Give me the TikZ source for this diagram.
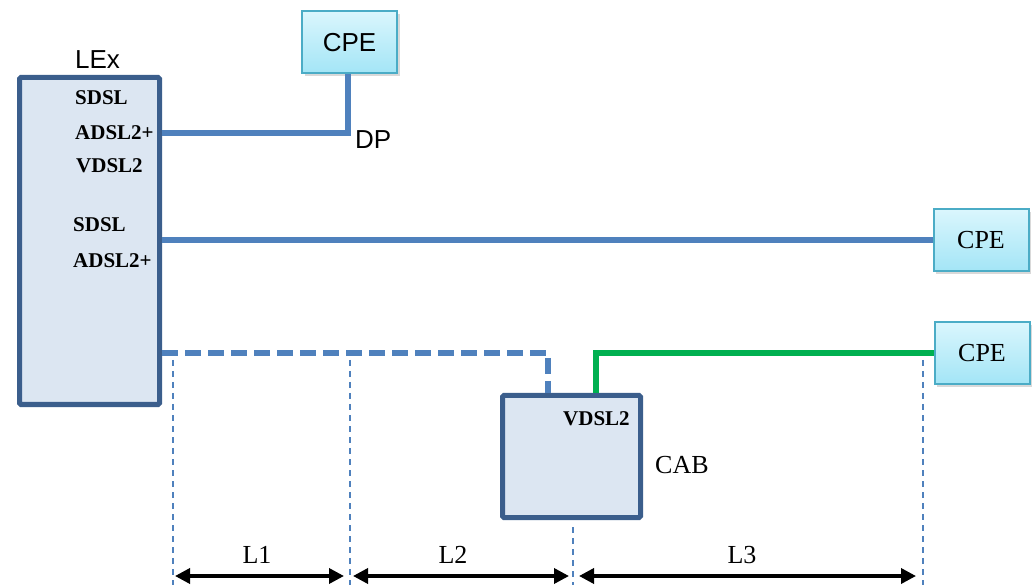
\documentclass[tikz,border=0pt]{standalone}
\usepackage{fontspec}
\setmainfont{Liberation Serif}
\newfontfamily\arialf{Liberation Sans}
\usetikzlibrary{arrows.meta,shadows}

\definecolor{boxfill}{HTML}{DCE6F2}
\definecolor{boxline}{HTML}{3B5E8C}
\definecolor{wireblue}{HTML}{4F81BD}
\definecolor{cpetop}{HTML}{DAF6FD}
\definecolor{cpebot}{HTML}{A3E5F6}
\definecolor{cpeline}{HTML}{4BACC6}
\definecolor{wiregreen}{HTML}{00B050}

\tikzset{
  exch/.style={draw=boxline, fill=boxfill, line width=5pt, rounded corners=1.5pt,
    inner sep=0pt},
  cpebox/.style={draw=cpeline, line width=2pt, top color=cpetop, bottom color=cpebot,
    drop shadow={shadow xshift=2.5pt, shadow yshift=-3pt, opacity=0.3},
    minimum width=95pt, minimum height=62pt, inner sep=0pt},
  cpeserif/.style={cpebox, font=\fontsize{26}{30}\selectfont},
  cpesans/.style={cpebox, font=\arialf\fontsize{26}{30}\selectfont},
  proto/.style={anchor=base west, inner sep=0pt, font=\bfseries\fontsize{21}{24}\selectfont},
  sanslabel/.style={anchor=base west, inner sep=0pt, font=\arialf\fontsize{26}{30}\selectfont},
  seriflabel/.style={anchor=base, inner sep=0pt, font=\fontsize{26}{30}\selectfont},
  wire/.style={draw=wireblue, line width=6pt},
  vwire/.style={draw=wiregreen, line width=5.5pt},
  guide/.style={draw=wireblue, line width=1.8pt, dash pattern=on 6pt off 5pt},
  span/.style={draw=black, line width=3.5pt, {Triangle[length=15pt,width=15pt]}-{Triangle[length=15pt,width=15pt]}}
}

\begin{document}
\begin{tikzpicture}[x=1pt, y=-1pt]
\useasboundingbox (0,0) rectangle (1034,585);

% exchange and cabinet
\node[exch, minimum width=140pt, minimum height=327pt] (lex) at (89.5,241) {};
\node[exch, minimum width=138pt, minimum height=122pt] (cab) at (571.5,456.5) {};

% customer premises equipment
\node[cpesans]  (cpe1) at (349.5,42.5) {CPE};
\node[cpeserif] (cpe2) at (981,240.5) {CPE};
\node[cpeserif] (cpe3) at (982,353) {CPE};

% labels
\node[sanslabel] (lexlbl) at (75,69) {LEx};
\node[sanslabel] (dplbl) at (355,149) {DP};
\node[anchor=base west, inner sep=0pt, font=\fontsize{26}{30}\selectfont] (cablbl) at (655,473) {CAB};

\node[proto] (p1) at (75,105) {SDSL};
\node[proto] (p2) at (75,140) {ADSL2+};
\node[proto] (p3) at (76,173) {VDSL2};
\node[proto] (p4) at (73,232) {SDSL};
\node[proto] (p5) at (73,268) {ADSL2+};
\node[proto] (p6) at (563,425) {VDSL2};

% wiring
\coordinate (dp) at (348,133);
\draw[wire] (lex.east |- dp) -- (dp) -- (dp |- cpe1.south);
\draw[wire] (lex.east |- cpe2.west) -- (cpe2.west);

\coordinate (cabfeed) at (548,353);
\draw[wire, line width=5.5pt, dash pattern=on 16pt off 7pt] (lex.east |- cabfeed) -- (cabfeed) -- (cabfeed |- cab.north);

\coordinate (vbend) at (596,353);
\draw[vwire] (vbend |- cab.north) -- (vbend) -- (cpe3.west);

% section boundaries
\coordinate (g1t) at (173,360);  \coordinate (g1b) at (173,585);
\coordinate (g2t) at (350,360);  \coordinate (g2b) at (350,585);
\coordinate (g3t) at (573,527);  \coordinate (g3b) at (573,585);
\coordinate (g4t) at (923,360);  \coordinate (g4b) at (923,585);
\draw[guide] (g1t) -- (g1b);
\draw[guide] (g2t) -- (g2b);
\draw[guide] (g3t) -- (g3b);
\draw[guide] (g4t) -- (g4b);

% section lengths
\coordinate (a1l) at (175,576); \coordinate (a1r) at (344,576);
\coordinate (a2l) at (353,576); \coordinate (a2r) at (569,576);
\coordinate (a3l) at (579,576); \coordinate (a3r) at (916,576);
\draw[span] (a1l) -- (a1r);
\draw[span] (a2l) -- (a2r);
\draw[span] (a3l) -- (a3r);
\node[seriflabel] (l1) at (257,563) {L1};
\node[seriflabel] (l2) at (453,563) {L2};
\node[seriflabel] (l3) at (742,563) {L3};
\end{tikzpicture}
\end{document}
